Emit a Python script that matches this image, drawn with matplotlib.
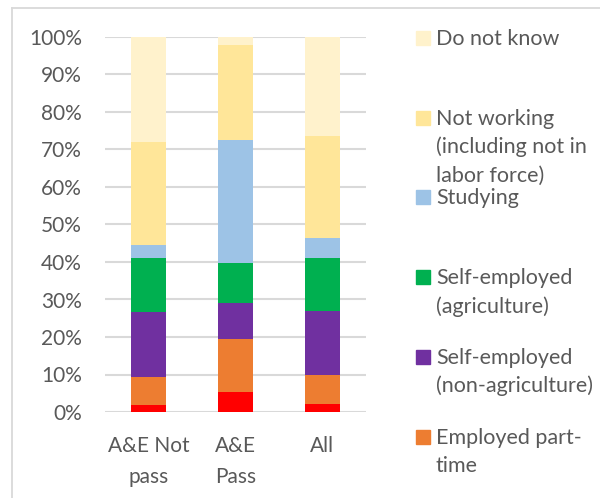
import matplotlib
matplotlib.use("Agg")
import matplotlib.pyplot as plt
from matplotlib.patches import Rectangle
from matplotlib.lines import Line2D
import numpy as np

plt.rcParams['font.family'] = ['Lato', 'DejaVu Sans']

categories = ["A&E Not\npass", "A&E\nPass", "All"]

# Shares (%) by activity, bottom to top of the stack
employed_full_time = [2.0, 5.4, 2.2]
employed_part_time = [7.3, 14.1, 7.7]
self_emp_nonagri = [17.3, 9.6, 17.0]
self_emp_agri = [14.5, 10.5, 14.1]
studying = [3.3, 33.0, 5.3]
not_working = [27.6, 25.3, 27.4]
do_not_know = [28.0, 2.1, 26.3]

series_labels = [
    "Employed full-time",
    "Employed part-\ntime",
    "Self-employed\n(non-agriculture)",
    "Self-employed\n(agriculture)",
    "Studying",
    "Not working\n(including not in\nlabor force)",
    "Do not know",
]
series_values = [employed_full_time, employed_part_time, self_emp_nonagri,
                 self_emp_agri, studying, not_working, do_not_know]
series_colors = ["#FF0000", "#ED7D31", "#7030A0", "#00B050",
                 "#9DC3E6", "#FFE699", "#FFF2CC"]

ytick_vals = np.arange(0, 101, 10)
ytick_labels = [f"{v}%" for v in ytick_vals]

W, H = 600, 498
FS = 15
fig = plt.figure(figsize=(W / 100, H / 100), dpi=100)
ax = fig.add_axes([105 / W, (H - 412) / H, 261 / W, 375 / H])

text_color = "#595959"
grid_color = "#D9D9D9"

x = np.arange(len(categories))
bottom = np.zeros(len(categories))
for vals, color in zip(series_values, series_colors):
    vals = np.asarray(vals, dtype=float)
    ax.bar(x, vals, width=0.4, bottom=bottom, color=color, zorder=3)
    bottom += vals

ax.set_xlim(-0.5, len(categories) - 0.5)
ax.set_ylim(0, 100)
ax.set_yticks(ytick_vals)
ax.set_yticklabels(ytick_labels)
ax.set_xticks(x)
ax.set_xticklabels(categories, linespacing=1.7)
ax.tick_params(axis='both', length=0, labelsize=FS, colors=text_color)
ax.tick_params(axis='y', pad=16.5)
ax.tick_params(axis='x', pad=17)
ax.grid(axis='y', color=grid_color, linewidth=1.5, zorder=0)
for s in ax.spines.values():
    s.set_visible(False)

# Chart frame (top and left edges)
fig.add_artist(Line2D([12 / W, 1.0], [1 - 8 / H, 1 - 8 / H], color=grid_color, lw=1.3))
fig.add_artist(Line2D([12 / W, 12 / W], [0, 1 - 8 / H], color=grid_color, lw=1.3))

# Legend, top to bottom: reverse of the stacking order
slot = 79.7
base0 = 45
line_gap = 28.5
for i, (label, color) in enumerate(zip(series_labels[::-1], series_colors[::-1])):
    base = base0 + slot * i
    if base > H:
        continue
    fig.add_artist(Rectangle((416 / W, 1 - base / H), 14 / W, 14 / H,
                             transform=fig.transFigure, color=color))
    for j, line in enumerate(label.split("\n")):
        fig.text(436 / W, 1 - (base + line_gap * j) / H, line, ha='left',
                 va='baseline', fontsize=15.5, color=text_color)

fig.savefig("out.png", dpi=100)
